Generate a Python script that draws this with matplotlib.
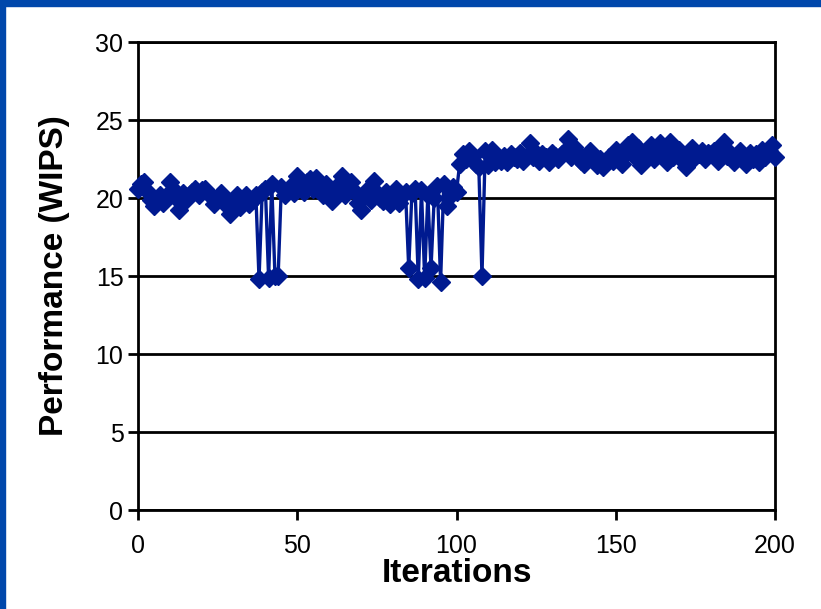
import matplotlib
matplotlib.use('Agg')
import matplotlib.pyplot as plt
from matplotlib.patches import Rectangle

plt.rcParams['font.family'] = ['Liberation Sans', 'DejaVu Sans']

# Performance per iteration
wips = [
    20.6, 20.9, 21.0, 20.4, 19.9, 19.5, 19.8, 20.2, 19.7, 20.1,
    21.0, 20.6, 20.0, 19.2, 20.3, 19.9, 20.1, 20.4, 20.6, 20.2,
    20.5, 20.6, 20.3, 20.1, 19.6, 20.0, 20.3, 19.8, 19.5, 19.0,
    19.4, 20.2, 19.4, 19.9, 20.2, 19.6, 19.9, 20.2, 14.8, 20.4,
    20.6, 14.9, 20.9, 15.0, 15.0, 20.7, 20.2, 20.5, 20.8, 20.3,
    21.4, 20.9, 20.4, 21.0, 21.2, 20.6, 21.3, 20.8, 20.2, 20.9,
    20.5, 19.8, 20.3, 20.9, 21.4, 20.2, 20.8, 21.0, 20.4, 19.7,
    19.2, 20.1, 20.5, 19.9, 21.1, 20.3, 20.0, 19.8, 20.4, 19.6,
    20.0, 20.6, 19.7, 20.2, 20.4, 15.5, 20.3, 20.6, 14.8, 20.5,
    14.9, 20.2, 15.5, 20.0, 20.8, 14.6, 20.9, 19.5, 20.1, 20.7,
    20.4, 22.2, 22.8, 22.5, 23.0, 22.6, 22.2, 22.0, 15.0, 23.0,
    22.1, 23.1, 22.3, 22.5, 22.4, 22.7, 22.3, 22.8, 22.6, 22.5,
    22.9, 22.4, 22.7, 23.5, 22.6, 22.9, 22.4, 22.8, 22.6, 22.3,
    22.9, 22.7, 22.5, 22.8, 23.0, 23.8, 22.6, 23.3, 22.9, 22.4,
    22.2, 22.7, 23.0, 22.6, 22.1, 22.5, 22.0, 22.3, 22.6, 22.4,
    23.1, 22.5, 22.2, 22.8, 23.4, 23.6, 22.6, 23.2, 22.1, 22.7,
    23.0, 23.4, 22.5, 22.9, 23.5, 22.8, 22.3, 23.6, 22.6, 22.9,
    23.1, 22.4, 22.0, 22.7, 23.2, 22.6, 22.8, 23.0, 22.5, 22.9,
    22.8, 23.0, 22.4, 23.1, 23.6, 22.7, 22.9, 22.3, 22.6, 23.0,
    22.7, 22.2, 22.9, 22.5, 22.8, 22.3, 23.1, 22.6, 23.0, 23.4,
    22.6,
]
iterations = list(range(len(wips)))

x_ticks = [0, 50, 100, 150, 200]
y_ticks = [0, 5, 10, 15, 20, 25, 30]

fig = plt.figure(figsize=(8.21, 6.09), dpi=100)
fig.patch.set_facecolor('white')

# blue slide frame on top and left
fig.patches.append(Rectangle((0, 1 - 6 / 609), 1, 6 / 609, transform=fig.transFigure,
                             color='#0047AB', zorder=0))
fig.patches.append(Rectangle((0, 0), 5 / 821, 1, transform=fig.transFigure,
                             color='#0047AB', zorder=0))

ax = fig.add_axes([138 / 821, 1 - 510 / 609, (775 - 138) / 821, (510 - 42) / 609])
ax.plot(iterations, wips, color='#001A90', linewidth=2.4, marker='D',
        markersize=9, markeredgecolor='#001A90', markerfacecolor='#001A90',
        clip_on=False, zorder=3)

ax.set_xlim(0, 200)
ax.set_ylim(0, 30)
ax.set_xticks(x_ticks)
ax.set_yticks(y_ticks)
ax.yaxis.grid(True, color='black', linewidth=2)
ax.set_axisbelow(True)
for s in ax.spines.values():
    s.set_linewidth(2)
    s.set_color('black')
ax.tick_params(axis='both', labelsize=18, width=2, length=7, direction='out', colors='black')
ax.tick_params(axis='x', pad=10)

ax.set_xlabel('Iterations', fontsize=24, fontweight='bold', labelpad=0)
ax.set_ylabel('Performance (WIPS)', fontsize=24, fontweight='bold', labelpad=18)

fig.savefig('out.png', dpi=100)
